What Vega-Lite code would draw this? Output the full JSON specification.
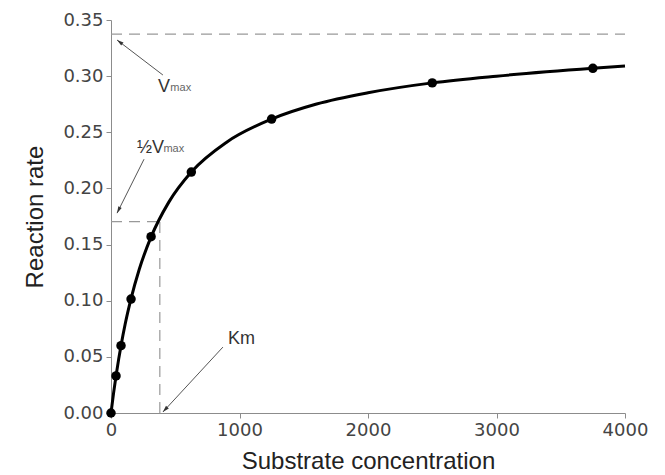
{
  "$schema": "https://vega.github.io/schema/vega-lite/v6.json",
  "width": 514,
  "height": 393,
  "autosize": "none",
  "padding": {"left": 111, "top": 20, "right": 40, "bottom": 62},
  "background": "white",
  "config": {
    "view": {"stroke": null},
    "axis": {
      "grid": false,
      "labelFlush": false,
      "domainColor": "#8c8c8c",
      "tickColor": "#8c8c8c",
      "tickSize": 5,
      "labelPadding": 3,
      "labelFont": "DejaVu Sans",
      "labelFontSize": 18,
      "labelColor": "#444444",
      "titleFont": "Liberation Sans",
      "titleFontSize": 24,
      "titleFontWeight": "normal",
      "titleColor": "#222222"
    }
  },
  "datasets": {
    "curve": [
      {"s": 0, "v": 0}, {"s": 20, "v": 0.0177}, {"s": 39, "v": 0.033}, {"s": 60, "v": 0.0482},
      {"s": 78, "v": 0.06}, {"s": 110, "v": 0.079}, {"s": 156, "v": 0.1018}, {"s": 220, "v": 0.128},
      {"s": 312, "v": 0.1568}, {"s": 450, "v": 0.1878}, {"s": 625, "v": 0.2146}, {"s": 900, "v": 0.2412},
      {"s": 1250, "v": 0.2618}, {"s": 1600, "v": 0.2752}, {"s": 2000, "v": 0.2852}, {"s": 2500, "v": 0.294},
      {"s": 3000, "v": 0.3}, {"s": 3750, "v": 0.307}, {"s": 4000, "v": 0.309}
    ],
    "points": [
      {"s": 0, "v": 0}, {"s": 39, "v": 0.033}, {"s": 78, "v": 0.06}, {"s": 156, "v": 0.1015},
      {"s": 312, "v": 0.157}, {"s": 625, "v": 0.2146}, {"s": 1250, "v": 0.2618}, {"s": 2500, "v": 0.294},
      {"s": 3750, "v": 0.307}
    ],
    "guides": [
      {"name": "vmax", "s": 0, "v": 0.3375, "s2": 4000, "v2": 0.3375},
      {"name": "halfh", "s": 0, "v": 0.1705, "s2": 380, "v2": 0.1705},
      {"name": "kmv", "s": 380, "v": 0, "s2": 380, "v2": 0.1705}
    ],
    "arrows": [
      {"name": "vmax", "s": 404, "v": 0.301, "s2": 47, "v2": 0.3322},
      {"name": "half", "s": 257, "v": 0.226, "s2": 47, "v2": 0.178},
      {"name": "km", "s": 871, "v": 0.0587, "s2": 404, "v2": 0.0009}
    ],
    "bigtext": [
      {"label": "V", "s": 365, "v": 0.286},
      {"label": "½V", "s": 202, "v": 0.2314},
      {"label": "Km", "s": 910, "v": 0.0615}
    ],
    "smalltext": [
      {"label": "max", "s": 462, "v": 0.2868},
      {"label": "max", "s": 408, "v": 0.2323}
    ]
  },
  "encoding": {
    "x": {"field": "s", "type": "quantitative", "scale": {"domain": [0, 4000], "nice": false, "zero": false},
      "axis": {"title": "Substrate concentration", "values": [0, 1000, 2000, 3000, 4000], "format": "d", "titlePadding": 10}},
    "y": {"field": "v", "type": "quantitative", "scale": {"domain": [0, 0.35], "nice": false, "zero": false},
      "axis": {"title": "Reaction rate", "values": [0, 0.05, 0.1, 0.15, 0.2, 0.25, 0.3, 0.35], "format": ".2f", "titlePadding": 15}}
  },
  "layer": [
    {"data": {"name": "guides"}, "mark": {"type": "rule", "color": "#999999", "strokeWidth": 1.2, "strokeDash": [11, 7]},
      "encoding": {"x2": {"field": "s2"}, "y2": {"field": "v2"}}},
    {"data": {"name": "arrows"}, "mark": {"type": "rule", "color": "#555555", "strokeWidth": 1},
      "encoding": {"x2": {"field": "s2"}, "y2": {"field": "v2"}}},
    {"data": {"name": "arrows"}, "transform": [{"filter": "datum.name === 'vmax'"}],
      "mark": {"type": "point", "shape": "M0,0L-0.4,1.4L0.4,1.4Z", "filled": true, "color": "#333333", "size": 90, "angle": 307, "opacity": 1},
      "encoding": {"x": {"field": "s2", "type": "quantitative"}, "y": {"field": "v2", "type": "quantitative"}}},
    {"data": {"name": "arrows"}, "transform": [{"filter": "datum.name === 'half'"}],
      "mark": {"type": "point", "shape": "M0,0L-0.4,1.4L0.4,1.4Z", "filled": true, "color": "#333333", "size": 90, "angle": 206.6, "opacity": 1},
      "encoding": {"x": {"field": "s2", "type": "quantitative"}, "y": {"field": "v2", "type": "quantitative"}}},
    {"data": {"name": "arrows"}, "transform": [{"filter": "datum.name === 'km'"}],
      "mark": {"type": "point", "shape": "M0,0L-0.4,1.4L0.4,1.4Z", "filled": true, "color": "#333333", "size": 90, "angle": 222.7, "opacity": 1},
      "encoding": {"x": {"field": "s2", "type": "quantitative"}, "y": {"field": "v2", "type": "quantitative"}}},
    {"data": {"name": "curve"}, "mark": {"type": "line", "color": "black", "strokeWidth": 3, "interpolate": "monotone"}},
    {"data": {"name": "points"}, "mark": {"type": "circle", "color": "black", "size": 90, "opacity": 1}},
    {"data": {"name": "bigtext"}, "mark": {"type": "text", "align": "left", "baseline": "alphabetic", "font": "Liberation Sans", "fontSize": 18, "color": "#333333"},
      "encoding": {"text": {"field": "label"}}},
    {"data": {"name": "smalltext"}, "mark": {"type": "text", "align": "left", "baseline": "alphabetic", "font": "Liberation Sans", "fontSize": 11, "color": "#666666"},
      "encoding": {"text": {"field": "label"}}}
  ]
}
